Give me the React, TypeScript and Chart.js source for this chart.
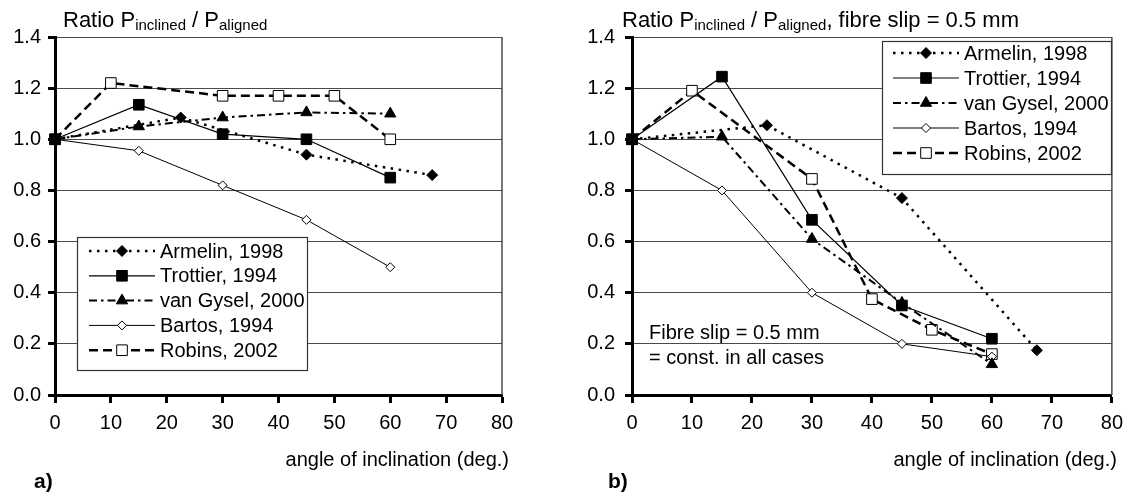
import React, { useEffect, useRef } from "react";
import { Chart, registerables } from "chart.js";

Chart.register(...registerables);

const FONT = '"Liberation Sans", Arial, Helvetica, sans-serif';

// ---------------- data ----------------
const seriesNames = ["Armelin, 1998", "Trottier, 1994", "van Gysel, 2000", "Bartos, 1994", "Robins, 2002"];
const xTickLabels = ["0", "10", "20", "30", "40", "50", "60", "70", "80"];
const yTickLabels = ["0.0", "0.2", "0.4", "0.6", "0.8", "1.0", "1.2", "1.4"];
const xAxisTitle = "angle of inclination (deg.)";

// panel a) ratio P_inclined / P_aligned
const armelinAngleA = [0, 22.5, 45, 67.5];
const armelinRatioA = [1.0, 1.085, 0.94, 0.86];
const trottierAngleA = [0, 15, 30, 45, 60];
const trottierRatioA = [1.0, 1.135, 1.02, 1.0, 0.85];
const vanGyselAngleA = [0, 15, 30, 45, 60];
const vanGyselRatioA = [1.0, 1.05, 1.085, 1.105, 1.1];
const bartosAngleA = [0, 15, 30, 45, 60];
const bartosRatioA = [1.0, 0.955, 0.82, 0.685, 0.5];
const robinsAngleA = [0, 10, 30, 40, 50, 60];
const robinsRatioA = [1.0, 1.22, 1.17, 1.17, 1.17, 1.0];

// panel b) ratio at fibre slip = 0.5 mm
const armelinAngleB = [0, 22.5, 45, 67.5];
const armelinRatioB = [1.0, 1.055, 0.77, 0.175];
const trottierAngleB = [0, 15, 30, 45, 60];
const trottierRatioB = [1.0, 1.245, 0.685, 0.35, 0.22];
const vanGyselAngleB = [0, 15, 30, 45, 60];
const vanGyselRatioB = [1.0, 1.01, 0.61, 0.36, 0.12];
const bartosAngleB = [0, 15, 30, 45, 60];
const bartosRatioB = [1.0, 0.8, 0.4, 0.2, 0.15];
const robinsAngleB = [0, 10, 30, 40, 50, 60];
const robinsRatioB = [1.0, 1.19, 0.845, 0.375, 0.255, 0.16];

// ---------------- styles ----------------
const seriesStyles = [
  { point: "rectRot", radius: 5.5, fill: "#000", lineWidth: 2.5, dash: [2.5, 5.5] },
  { point: "rect", radius: 7.5, fill: "#000", lineWidth: 1.2, dash: [] },
  { point: "triangle", radius: 6.5, fill: "#000", lineWidth: 2, dash: [8, 4, 2.5, 4] },
  { point: "rectRot", radius: 4.5, fill: "#fff", lineWidth: 1, dash: [] },
  { point: "rect", radius: 7.5, fill: "#fff", lineWidth: 2.5, dash: [9, 5] },
];

const panelA = {
  width: 566,
  height: 495,
  area: { left: 55, right: 502, top: 37, bottom: 395 },
  yPad: 7,
  series: [
    [armelinAngleA, armelinRatioA],
    [trottierAngleA, trottierRatioA],
    [vanGyselAngleA, vanGyselRatioA],
    [bartosAngleA, bartosRatioA],
    [robinsAngleA, robinsRatioA],
  ],
  titleX: 63,
  titleY: 27,
  titleParts: [
    ["Ratio P", 22, 0],
    ["inclined", 15, 3],
    [" / P", 22, 0],
    ["aligned", 15, 3],
  ],
  xTitleDx: 7,
  xTitleY: 466,
  panelLabel: "a)",
  panelX: 34,
  panelY: 488,
  notes: [] as [string, number, number][],
  legend: { x0: 77, y0: 237, x1: 307, y1: 370, rowY0: 251, rowStep: 24.8, lineX0: 89, lineX1: 155, textX: 160 },
};

const panelB = {
  width: 565,
  height: 495,
  area: { left: 66, right: 547, top: 37, bottom: 395 },
  yPad: 10,
  series: [
    [armelinAngleB, armelinRatioB],
    [trottierAngleB, trottierRatioB],
    [vanGyselAngleB, vanGyselRatioB],
    [bartosAngleB, bartosRatioB],
    [robinsAngleB, robinsRatioB],
  ],
  titleX: 56,
  titleY: 27,
  titleParts: [
    ["Ratio P", 22, 0],
    ["inclined", 15, 3],
    [" / P", 22, 0],
    ["aligned", 15, 3],
    [", fibre slip = 0.5 mm", 22, 0],
  ],
  xTitleDx: 5,
  xTitleY: 466,
  panelLabel: "b)",
  panelX: 42,
  panelY: 488,
  notes: [
    ["Fibre slip = 0.5 mm", 83, 339],
    ["= const. in all cases", 83, 364],
  ] as [string, number, number][],
  legend: { x0: 316, y0: 41, x1: 545, y1: 174, rowY0: 53, rowStep: 25, lineX0: 327, lineX1: 393, textX: 398 },
};

function drawMarker(ctx: CanvasRenderingContext2D, style: string, r: number, x: number, y: number, fill: string) {
  ctx.beginPath();
  if (style === "rect") {
    const s = r * Math.SQRT1_2;
    ctx.rect(x - s, y - s, 2 * s, 2 * s);
  } else if (style === "rectRot") {
    ctx.moveTo(x - r, y);
    ctx.lineTo(x, y - r);
    ctx.lineTo(x + r, y);
    ctx.lineTo(x, y + r);
    ctx.closePath();
  } else {
    for (let k = 0; k < 3; k++) {
      const a = (k * 2 * Math.PI) / 3;
      const px = x + Math.sin(a) * r;
      const py = y - Math.cos(a) * r;
      if (k === 0) ctx.moveTo(px, py);
      else ctx.lineTo(px, py);
    }
    ctx.closePath();
  }
  ctx.fillStyle = fill;
  ctx.fill();
  ctx.setLineDash([]);
  ctx.lineWidth = 1;
  ctx.strokeStyle = "#000";
  ctx.stroke();
}

function decorPlugin(cfg: any) {
  return {
    id: "decor",
    beforeDatasetsDraw(chart: any) {
      const { ctx, chartArea } = chart;
      ctx.save();
      ctx.strokeStyle = "#4a4a4a";
      ctx.lineWidth = 1.5;
      ctx.beginPath();
      ctx.moveTo(chartArea.right, chartArea.top);
      ctx.lineTo(chartArea.right, chartArea.bottom);
      ctx.stroke();
      ctx.restore();
    },
    afterDraw(chart: any) {
      const ctx: CanvasRenderingContext2D = chart.ctx;
      ctx.save();
      ctx.fillStyle = "#000";
      ctx.textBaseline = "alphabetic";
      ctx.textAlign = "left";
      // title with subscripts
      let x = cfg.titleX;
      for (const [t, size, dy] of cfg.titleParts) {
        ctx.font = `${size}px ${FONT}`;
        ctx.fillText(t, x, cfg.titleY + dy);
        x += ctx.measureText(t).width;
      }
      // x axis title
      ctx.font = `20px ${FONT}`;
      ctx.textAlign = "right";
      ctx.fillText(xAxisTitle, chart.chartArea.right + cfg.xTitleDx, cfg.xTitleY);
      // panel label
      ctx.textAlign = "left";
      ctx.font = `bold 21px ${FONT}`;
      ctx.fillText(cfg.panelLabel, cfg.panelX, cfg.panelY);
      // notes
      ctx.font = `20px ${FONT}`;
      for (const [t, nx, ny] of cfg.notes) ctx.fillText(t, nx, ny);
      // legend
      const L = cfg.legend;
      ctx.fillStyle = "#fff";
      ctx.fillRect(L.x0, L.y0, L.x1 - L.x0, L.y1 - L.y0);
      ctx.strokeStyle = "#333";
      ctx.lineWidth = 1.2;
      ctx.strokeRect(L.x0 + 0.5, L.y0 + 0.5, L.x1 - L.x0, L.y1 - L.y0);
      chart.data.datasets.forEach((ds: any, i: number) => {
        const y = L.rowY0 + i * L.rowStep;
        ctx.strokeStyle = "#000";
        ctx.lineWidth = ds.borderWidth;
        ctx.setLineDash(ds.borderDash || []);
        ctx.beginPath();
        ctx.moveTo(L.lineX0, y);
        ctx.lineTo(L.lineX1, y);
        ctx.stroke();
        drawMarker(ctx, ds.pointStyle, ds.pointRadius, (L.lineX0 + L.lineX1) / 2, y, ds.pointBackgroundColor);
        ctx.fillStyle = "#000";
        ctx.font = `20px ${FONT}`;
        ctx.textBaseline = "middle";
        ctx.fillText(ds.label, L.textX, y + 1);
      });
      ctx.restore();
    },
  };
}

function buildConfig(cfg: any): any {
  const tickFont = { family: FONT, size: 20 };
  return {
    type: "scatter",
    data: {
      datasets: cfg.series.map(([xs, ys]: [number[], number[]], i: number) => ({
        label: seriesNames[i],
        data: xs.map((x, j) => ({ x, y: ys[j] })),
        showLine: true,
        tension: 0,
        fill: false,
        clip: false,
        borderColor: "#000",
        borderWidth: seriesStyles[i].lineWidth,
        borderDash: seriesStyles[i].dash,
        pointStyle: seriesStyles[i].point,
        pointRadius: seriesStyles[i].radius,
        pointHoverRadius: seriesStyles[i].radius,
        pointBackgroundColor: seriesStyles[i].fill,
        pointBorderColor: "#000",
        pointBorderWidth: 1,
      })),
    },
    options: {
      responsive: false,
      animation: false,
      devicePixelRatio: 1,
      events: [],
      layout: { padding: { left: 0, top: cfg.area.top, right: cfg.width - cfg.area.right, bottom: 0 } },
      plugins: { legend: { display: false }, title: { display: false }, tooltip: { enabled: false } },
      scales: {
        x: {
          type: "linear",
          position: "bottom",
          min: 0,
          max: 80,
          ticks: {
            stepSize: 10,
            autoSkip: false,
            maxRotation: 0,
            padding: 8,
            color: "#000",
            font: tickFont,
            callback: (v: number) => xTickLabels[Math.round(v / 10)] ?? "",
          },
          grid: { drawOnChartArea: false, drawTicks: true, tickLength: 8, tickWidth: 3, tickColor: "#000" },
          border: { display: true, width: 3, color: "#000" },
          afterFit: (s: any) => {
            s.height = cfg.height - cfg.area.bottom;
          },
        },
        y: {
          type: "linear",
          position: "left",
          min: 0,
          max: 1.4,
          ticks: {
            stepSize: 0.2,
            autoSkip: false,
            padding: cfg.yPad,
            color: "#000",
            font: tickFont,
            callback: (v: number) => yTickLabels[Math.round(v / 0.2)] ?? "",
          },
          grid: { color: "#4a4a4a", lineWidth: 1, drawTicks: true, tickLength: 7, tickWidth: 3, tickColor: "#000" },
          border: { display: true, width: 3, color: "#000" },
          afterFit: (s: any) => {
            s.width = cfg.area.left;
          },
        },
      },
    },
    plugins: [decorPlugin(cfg)],
  };
}

function Panel({ cfg, left }: { cfg: any; left: number }) {
  const ref = useRef<HTMLCanvasElement | null>(null);
  useEffect(() => {
    if (!ref.current) return;
    const chart = new Chart(ref.current, buildConfig(cfg));
    return () => chart.destroy();
  }, [cfg]);
  return (
    <div style={{ position: "absolute", left, top: 0, width: cfg.width, height: cfg.height }}>
      <canvas ref={ref} width={cfg.width} height={cfg.height} style={{ display: "block", width: cfg.width, height: cfg.height }} />
    </div>
  );
}

export default function App() {
  return (
    <div style={{ position: "absolute", left: 0, top: 0, width: 1131, height: 495, background: "#fff", overflow: "hidden" }}>
      <Panel cfg={panelA} left={0} />
      <Panel cfg={panelB} left={566} />
    </div>
  );
}
